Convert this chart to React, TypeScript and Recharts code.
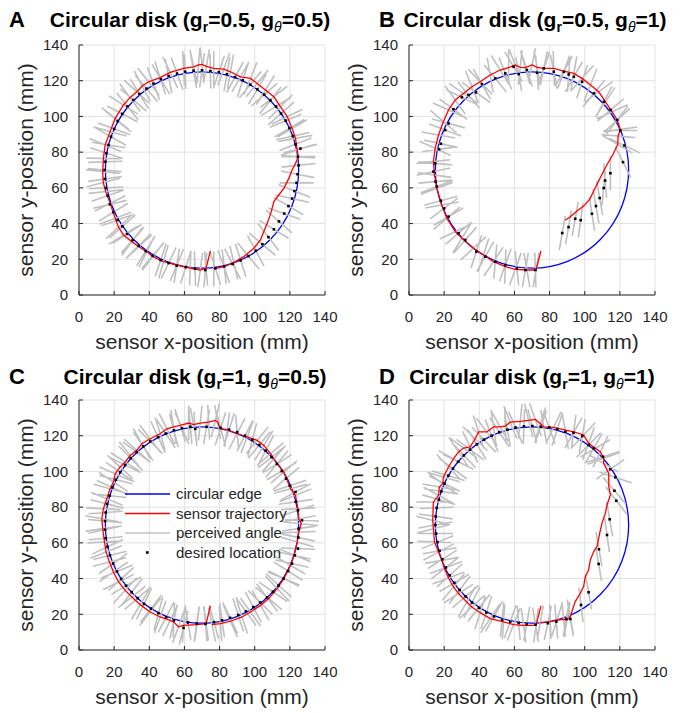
import { ComposedChart, XAxis, YAxis, CartesianGrid, Line, Scatter, ReferenceArea, Legend } from 'recharts'

type Pt = [number, number]

const axisTicks = [0, 20, 40, 60, 80, 100, 120, 140]
const edgeCenter: Pt = [70, 70]
const edgeRadius = 55
const stickHalf = 9.7

// panel A (g_r=0.5, g_theta=0.5)
const trajA: Pt[] = [
  [74.8, 24.7], [72.3, 15.0], [69.0, 14.0], [63.3, 15.0], [55.7, 16.8], [48.1, 18.7], [42.0, 21.5], [38.6, 24.3],
  [34.0, 27.0], [30.1, 29.9], [25.3, 33.6], [22.5, 38.0], [20.6, 43.0], [17.7, 51.3], [15.2, 57.9], [13.8, 63.0],
  [13.5, 69.1], [13.9, 76.5], [14.9, 84.0], [17.7, 91.5], [20.6, 98.9], [25.3, 106.4], [29.0, 110.5], [32.9, 113.8],
  [36.0, 117.0], [39.6, 119.4], [46.2, 121.7], [51.9, 124.7], [59.5, 126.9], [65.2, 127.8], [68.0, 128.8], [70.0, 129.1],
  [72.5, 128.0], [76.7, 126.9], [82.4, 126.5], [86.2, 125.0], [91.9, 122.2], [97.6, 121.3], [101.4, 118.5], [106.1, 114.8],
  [110.9, 111.0], [114.7, 105.4], [118.5, 99.9], [121.3, 93.3], [123.2, 87.7], [124.2, 81.2], [124.8, 77.5], [123.2, 73.7],
  [121.3, 70.0], [119.4, 65.3], [116.6, 59.7], [113.7, 56.0], [110.9, 52.3], [109.4, 46.7], [107.5, 41.1], [105.2, 35.5],
  [103.3, 30.8], [99.5, 26.2], [93.8, 21.5], [88.1, 18.1], [82.4, 15.9], [76.7, 14.6],
]
// perceived angle at each sensor position (null: no line drawn there)
const trajAngleA: (number | null)[] = [
  null, 275, 262, 268, 247, 254, 232, 243, 222, 233, 212, 222, 200, 206, 186, 194, 174, 179, 158, 165,
  142, 148, 127, 138, 118, 129, 108, 116, 93, 102, 85, 96, 80, 90, 70, 80, 60, 68, 50, 58,
  38, 45, 25, 30, 10, 18, 0, null, null, null, null, null, null, null, null, null, null, null, null, -77,
  -70, -90,
]
const dotsA: Pt[] = [
  [71.9, 14.0], [66.0, 14.8], [60.8, 15.6], [55.6, 16.4], [51.0, 17.9], [46.5, 19.6], [42.0, 22.0], [38.0, 24.6],
  [34.0, 27.6], [30.6, 30.8], [27.4, 34.2], [24.7, 38.4], [22.0, 42.0], [19.6, 46.4], [17.6, 50.8], [16.4, 55.6],
  [15.4, 60.0], [14.8, 65.0], [14.6, 70.0], [15.0, 74.6], [15.6, 79.4], [16.8, 84.0], [18.2, 88.6], [20.0, 93.0],
  [22.0, 97.4], [24.6, 101.4], [27.6, 105.6], [31.0, 109.2], [34.4, 112.6], [38.4, 115.6], [42.4, 118.4], [46.6, 120.8],
  [51.0, 122.6], [55.8, 124.0], [60.4, 125.0], [65.2, 125.6], [70.0, 125.8], [74.8, 125.4], [79.6, 124.8], [84.2, 123.6],
  [88.8, 122.0], [93.2, 120.2], [97.5, 117.8], [101.5, 115.2], [105.4, 112.2], [108.9, 109.0], [112.1, 105.6], [115.0, 101.6],
  [117.6, 97.6], [119.8, 93.4], [121.7, 89.0], [123.2, 84.4], [126.0, 82.0], [124.6, 77.4], [125.0, 72.6], [124.4, 67.6],
  [123.8, 62.8], [122.6, 58.2], [121.3, 54.0], [119.2, 49.8], [116.8, 45.6], [113.8, 41.2], [110.9, 36.8], [107.8, 32.4],
  [104.4, 28.4], [100.6, 24.8], [96.4, 21.8], [92.0, 19.4], [87.4, 17.4], [82.6, 16.0], [77.6, 15.0],
]
const angleA = [
  265, 272, 252, 261, 244, 251, 229, 238, 224, 228, 213, 221, 199, 211, 193, 199, 183, 188, 175, 182,
  162, 171, 151, 160, 141, 153, 129, 140, 122, 131, 111, 121, 101, 110, 92, 100, 82, 91, 71, 80,
  61, 72, 50, 59, 41, 51, 31, 41, 22, 30, 12, 21, 14, -4, 6, -11, 0, -21, -12, -30,
  -19, -41, -31, -52, -40, -61, -50, -72, -62, -83, -72,
]

// panel B (g_r=0.5, g_theta=1)
const trajB: Pt[] = [
  [75.1, 24.7], [72.3, 14.0], [67.1, 14.0], [60.5, 14.4], [54.8, 15.9], [48.1, 18.7], [42.4, 22.4], [36.7, 26.2],
  [30.1, 31.8], [26.3, 35.5], [21.5, 43.0], [18.7, 50.4], [15.8, 59.7], [14.5, 67.2], [13.9, 74.7], [14.9, 82.1],
  [16.8, 89.6], [19.6, 97.1], [22.5, 103.6], [26.3, 109.2], [31.0, 112.9], [35.8, 116.6], [40.5, 119.4], [46.2, 123.2],
  [51.9, 126.0], [56.7, 127.3], [60.5, 128.8], [63.3, 127.5], [66.2, 127.3], [70.0, 128.8], [72.9, 127.5], [76.7, 126.9],
  [82.4, 126.9], [88.1, 125.4], [93.8, 124.1], [98.5, 121.3], [103.3, 117.6], [108.0, 113.8], [111.8, 108.2], [115.6, 102.6],
  [118.5, 98.0], [120.3, 92.7], [119.0, 89.0], [118.8, 84.3], [116.1, 78.7], [112.7, 73.1], [109.8, 67.5], [107.4, 62.8],
  [105.1, 58.2], [102.8, 53.5], [99.4, 49.8], [95.6, 47.0], [91.8, 43.8], [88.9, 41.9],
]
const trajAngleB: (number | null)[] = [
  null, 260, 280, 250, 268, 236, 252, 222, 238, 205, 220, 190, 200, 172, 186, 156, 170, 140, 156, 126,
  146, 112, 134, 100, 122, 90, 112, 84, 106, 78, 100, 70, 92, 60, 80, 48, 68, 36, 56, 24,
  42, 8, 175, 150, null, null, null, null, null, null, null, null, null, null,
]
const dotsB: Pt[] = [
  [71.9, 14.0], [66.2, 14.0], [61.4, 15.0], [54.8, 16.8], [49.1, 18.7], [43.4, 21.5], [38.3, 24.3], [32.0, 30.8],
  [28.2, 34.6], [22.5, 43.9], [20.0, 48.5], [18.1, 52.8], [15.8, 60.7], [15.1, 63.5], [13.9, 69.1], [14.9, 73.7],
  [17.1, 81.6], [18.1, 84.7], [20.6, 92.4], [22.5, 96.1], [25.3, 104.0], [30.1, 110.7], [33.9, 112.0], [38.1, 113.5],
  [41.5, 118.1], [49.1, 121.3], [54.8, 124.1], [59.5, 127.8], [62.4, 123.7], [67.1, 126.0], [72.9, 124.5], [76.7, 126.9],
  [82.4, 125.0], [88.1, 125.0], [90.9, 123.5], [93.8, 122.2], [98.5, 119.4], [105.2, 112.9], [110.9, 108.2], [114.7, 103.6],
  [118.5, 98.0], [120.3, 92.1], [122.6, 83.7], [121.8, 74.4], [114.6, 68.2], [111.6, 64.1], [110.8, 59.9], [108.5, 54.3],
  [106.4, 49.8], [104.1, 45.5], [97.7, 41.9], [94.6, 42.7], [90.8, 38.0], [87.2, 34.7],
]
const angleB = [
  92, 80, 96, 70, 85, 60, 72, 48, 40, 30, 36, 15, 21, 5, 12, -5, 8, -12, -20, -15,
  -36, -25, -50, -35, -60, 130, 112, 121, 100, 108, 95, 78, 101, 70, 86, 60, 72, 50, 62, 40,
  52, 0, 155, 117, 90, 95, 84, 100, 100, 99, 82, 80, 80, 80,
]

// panel C (g_r=1, g_theta=0.5)
const trajC: Pt[] = [
  [74.8, 24.7], [72.3, 14.8], [67.1, 14.2], [59.5, 13.8], [56.6, 13.0], [53.8, 15.8], [51.9, 16.6], [46.2, 18.5],
  [40.5, 21.3], [34.8, 25.4], [30.1, 29.7], [26.3, 33.4], [22.5, 38.1], [19.6, 43.7], [17.3, 49.3], [15.4, 54.9],
  [14.5, 60.5], [13.5, 67.9], [13.0, 73.5], [13.9, 79.1], [15.8, 84.7], [17.7, 90.3], [19.6, 94.1], [20.6, 98.7],
  [23.4, 102.5], [26.3, 105.3], [29.1, 109.0], [32.9, 111.8], [35.8, 115.5], [40.5, 118.3], [46.2, 121.1], [50.0, 123.9],
  [53.8, 124.9], [57.6, 125.8], [62.4, 127.1], [65.2, 126.2], [69.0, 127.1], [73.8, 127.6], [77.6, 128.6], [78.9, 127.6],
  [80.5, 123.9], [84.3, 123.4], [89.9, 121.1], [95.7, 119.3], [101.4, 117.4], [105.2, 114.6], [109.0, 109.9], [110.9, 107.1],
  [112.8, 104.3], [116.6, 99.7], [120.4, 90.3], [123.2, 86.6], [124.6, 79.1], [125.1, 73.5], [126.5, 70.7], [125.1, 66.0],
  [124.2, 60.5], [122.3, 53.0], [120.4, 47.4], [116.6, 40.0], [112.8, 34.4], [108.0, 28.8], [103.3, 25.0], [97.6, 21.3],
  [92.8, 18.5], [86.2, 16.1], [80.5, 14.8], [75.7, 14.2],
]
const trajAngleC: (number | null)[] = [
  null, 278, 262, 266, 250, 258, 244, 250, 232, 239, 218, 227, 206, 214, 194, 201, 183, 188, 170, 177,
  158, 165, 147, 157, 138, 148, 129, 139, 120, 128, 107, 117, 99, 108, 90, 101, 84, 93, 76, 100,
  72, 82, 62, 69, 50, 58, 40, 48, 32, 40, 15, 22, 3, 10, -6, 2, -16, -12, -30, -26,
  -46, -40, -60, -54, -72, -66, -86, -78,
]
const dotsC: Pt[] = [
  [72.0, 14.6], [67.0, 14.8], [62.0, 15.4], [59.5, 12.4], [54.0, 16.6], [49.6, 18.4], [45.2, 20.6], [41.0, 23.2],
  [37.0, 25.8], [33.4, 29.0], [30.0, 32.4], [26.8, 36.0], [24.0, 39.8], [21.6, 44.0], [19.4, 48.4], [17.6, 53.0],
  [16.2, 57.8], [15.2, 62.6], [14.8, 67.4], [14.8, 72.2], [15.2, 77.0], [16.0, 81.8], [17.4, 86.4], [19.0, 91.0],
  [21.0, 95.4], [23.4, 99.6], [26.2, 103.6], [29.4, 107.4], [32.8, 110.8], [36.6, 114.0], [40.6, 116.8], [45.0, 119.2],
  [49.4, 121.2], [54.0, 123.0], [58.6, 124.2], [63.4, 125.0], [66.2, 123.9], [72.6, 125.0], [80.6, 124.4], [85.4, 123.4],
  [90.0, 122.0], [94.4, 120.0], [98.6, 117.6], [102.6, 114.8], [106.2, 111.6], [109.6, 108.0], [112.6, 104.2], [115.4, 100.2],
  [117.8, 96.0], [120.0, 92.0], [123.2, 88.5], [123.4, 83.0], [124.6, 78.2], [126.9, 72.6], [125.0, 68.0], [124.8, 63.0],
  [124.6, 56.8], [122.8, 53.0], [121.2, 48.4], [119.0, 44.2], [116.4, 40.0], [113.6, 36.2], [110.4, 32.6], [107.0, 29.4],
  [103.2, 26.6], [99.2, 24.0], [95.0, 21.6], [90.6, 19.6], [86.0, 18.0], [81.4, 16.6], [76.8, 15.6],
]
const angleC = [
  95, 82, 100, 75, 88, 62, 75, 52, 64, 40, 52, 30, 42, 22, 35, 14, 25, 5, 12, -5,
  4, -14, -6, -24, -14, -34, -26, -45, -36, -55, -44, -65, -56, -75, -66, -85, 95, 80, 105, 72,
  95, 62, 75, 50, 62, 38, 50, 30, 40, 18, 28, 8, 18, -2, 8, -12, -2, -22, -12, -32,
  -22, -42, -34, -52, -44, -62, -54, -72, -64, -82, -74,
]

// panel D (g_r=1, g_theta=1)
const trajD: Pt[] = [
  [75.1, 24.7], [72.3, 13.8], [65.2, 13.8], [59.5, 14.2], [53.8, 15.7], [46.2, 17.6], [40.5, 20.9], [35.8, 24.1],
  [32.9, 26.9], [28.2, 31.6], [25.3, 35.3], [22.5, 40.3], [20.2, 45.6], [18.7, 50.2], [16.8, 54.9], [14.5, 60.5],
  [13.9, 67.9], [13.5, 72.6], [13.9, 82.9], [16.8, 86.6], [17.3, 91.3], [19.2, 93.1], [19.6, 96.9], [22.5, 102.5],
  [25.3, 107.1], [28.2, 110.9], [31.0, 113.1], [34.8, 113.7], [37.7, 118.3], [39.6, 122.1], [44.3, 122.1], [48.1, 124.9],
  [51.9, 124.9], [54.8, 125.4], [57.6, 127.6], [63.3, 128.0], [68.1, 128.6], [71.9, 129.1], [74.8, 126.7], [76.7, 124.9],
  [82.3, 124.7], [93.7, 122.2], [99.4, 120.4], [102.2, 115.7], [106.0, 112.9], [108.9, 111.0], [110.8, 107.3], [110.8, 104.5],
  [113.7, 98.9], [113.7, 91.5], [114.6, 86.8], [112.7, 81.2], [111.7, 76.5], [109.8, 70.9], [108.5, 65.3], [107.0, 57.9],
  [105.1, 55.1], [103.2, 50.4], [102.2, 44.8], [100.3, 41.1], [99.4, 35.5], [97.5, 31.8], [94.6, 27.1], [92.7, 21.5],
  [91.8, 18.7], [89.9, 16.8], [88.0, 17.2], [84.2, 16.8], [80.4, 15.9], [74.7, 15.3],
]
const trajAngleD: (number | null)[] = [
  null, 262, 278, 248, 266, 236, 252, 222, 240, 212, 230, 200, 218, 190, 208, 178, 194, 166, 180, 152,
  170, 144, 164, 134, 152, 124, 144, 116, 136, 108, 128, 98, 120, 92, 112, 84, 104, 110, 72, 100,
  64, 82, 46, 70, 30, 64, 20, 150, null, null, null, null, null, null, null, null, null, null, null, null,
  null, null, null, null, 100, 80, 96, 72, 92, 80,
]
const dotsD: Pt[] = [
  [72.0, 14.2], [67.0, 14.6], [62.4, 15.2], [57.6, 15.8], [53.0, 17.0], [48.4, 18.8], [44.0, 21.0], [39.8, 23.6],
  [35.8, 26.6], [32.2, 30.0], [28.8, 33.6], [25.8, 37.6], [23.2, 41.8], [21.0, 46.2], [19.0, 50.8], [17.4, 55.6],
  [16.2, 60.4], [15.4, 65.2], [15.0, 70.0], [15.2, 74.8], [15.8, 79.6], [17.0, 84.2], [18.4, 88.8], [20.2, 93.2],
  [22.4, 97.6], [25.0, 101.6], [28.0, 105.4], [31.2, 109.0], [34.8, 112.2], [38.6, 115.2], [42.6, 117.8], [47.0, 120.0],
  [51.4, 122.0], [56.0, 123.4], [60.6, 124.6], [65.4, 125.2], [70.2, 125.4], [75.0, 125.0], [79.8, 124.6], [84.4, 123.6],
  [89.0, 122.2], [93.6, 121.6], [98.6, 119.8], [102.2, 114.8], [105.1, 112.9], [110.4, 108.2], [114.6, 101.2], [117.5, 96.7],
  [116.9, 89.2], [118.0, 83.6], [114.2, 73.2], [112.7, 64.4], [108.1, 56.4], [107.9, 48.2], [102.2, 32.3], [97.9, 25.2],
  [91.8, 17.4], [89.5, 17.4], [83.8, 15.9], [79.0, 15.0],
]
const angleD = [
  100, 80, 95, 70, 84, 60, 72, 50, 62, 40, 52, 30, 42, 20, 32, 10, 22, 0, 10, -8,
  2, -16, -8, -26, -16, -36, -26, -46, -36, -58, -46, -68, -56, -80, -66, -92, 105, 70, 110, 72,
  100, 60, 80, 45, 60, 18, 35, 162, 131, 128, 100, 98, 100, 100, 100, 97, 100, 80, 95, 78,
]

const legendItems = [
  { label: 'circular edge', color: '#0000ff' },
  { label: 'sensor trajectory', color: '#ff0000' },
  { label: 'perceived angle', color: '#c0c0c0' },
  { label: 'desired location', color: '#000000' },
]

const ink = '#262626'

function sticks(centers: Pt[], angles: (number | null)[]) {
  const out: { x: number; y: number | null }[] = []
  centers.forEach(([x, y], i) => {
    const deg = angles[i]
    if (deg == null) return
    const a = (deg * Math.PI) / 180
    const dx = stickHalf * Math.cos(a)
    const dy = stickHalf * Math.sin(a)
    out.push({ x: x - dx, y: y - dy }, { x: x + dx, y: y + dy }, { x: x + dx, y: null })
  })
  return out
}

const EdgeShape = (p: any) => {
  const w = Math.abs(p.width)
  const h = Math.abs(p.height)
  return (
    <ellipse cx={p.x + w / 2} cy={p.y + h / 2} rx={w / 2} ry={h / 2} fill="none" stroke="#0000ff" strokeWidth={1.3} />
  )
}

const DotShape = (p: any) => <rect x={p.cx - 1.3} y={p.cy - 1.3} width={2.6} height={2.6} fill="#000" />

function LegendBox() {
  return (
    <svg width={200} height={80}>
      {legendItems.map((it, i) => {
        const y = 10 + i * 19.5
        return (
          <g key={it.label}>
            {i < 3 ? (
              <line x1={0} x2={45} y1={y} y2={y} stroke={it.color} strokeWidth={1.5} />
            ) : (
              <rect x={21} y={y - 1.3} width={2.6} height={2.6} fill="#000" />
            )}
            <text x={51} y={y} dy="0.36em" fontSize={15} fill={ink}>
              {it.label}
            </text>
          </g>
        )
      })}
    </svg>
  )
}

type PanelProps = {
  left: number
  top: number
  traj: Pt[]
  trajAngles: (number | null)[]
  dots: Pt[]
  angles: number[]
  legend?: boolean
}

function Panel({ left, top, traj, trajAngles, dots, angles, legend }: PanelProps) {
  const trajData = traj.map(([x, y]) => ({ x, y }))
  const dotData = dots.map(([x, y]) => ({ x, y }))
  const stickData = [...sticks(traj, trajAngles), ...sticks(dots, angles)]
  const tickStyle = { fontSize: 15, fill: ink }
  return (
    <div style={{ position: 'absolute', left, top }}>
      <ComposedChart width={347} height={357} margin={{ top: 45, right: 22, bottom: 0, left: 0 }}>
        <CartesianGrid stroke="#e2e2e2" strokeWidth={1} />
        <XAxis
          dataKey="x"
          type="number"
          domain={[0, 140]}
          ticks={axisTicks}
          allowDataOverflow
          height={62}
          tickSize={-4}
          tickMargin={20}
          tick={tickStyle}
          stroke={ink}
          label={{ value: 'sensor x-position (mm)', position: 'insideBottom', offset: 8, style: { fontSize: 21, fill: ink } }}
        />
        <YAxis
          dataKey="y"
          type="number"
          domain={[0, 140]}
          ticks={axisTicks}
          allowDataOverflow
          width={79}
          tickSize={-4}
          tickMargin={15}
          tick={tickStyle}
          stroke={ink}
          label={{
            value: 'sensor y-position (mm)',
            angle: -90,
            position: 'insideLeft',
            offset: 26,
            style: { textAnchor: 'middle', fontSize: 21, fill: ink },
          }}
        />
        <XAxis xAxisId="top" orientation="top" type="number" domain={[0, 140]} ticks={axisTicks} height={0} tick={false} tickSize={-4} stroke={ink} />
        <YAxis yAxisId="right" orientation="right" type="number" domain={[0, 140]} ticks={axisTicks} width={0} tick={false} tickSize={-4} stroke={ink} />
        <Line data={stickData} dataKey="y" type="linear" stroke="#c0c0c0" strokeWidth={1.6} dot={false} activeDot={false} isAnimationActive={false} />
        <ReferenceArea
          x1={edgeCenter[0] - edgeRadius}
          x2={edgeCenter[0] + edgeRadius}
          y1={edgeCenter[1] - edgeRadius}
          y2={edgeCenter[1] + edgeRadius}
          shape={EdgeShape}
        />
        <Line data={trajData} dataKey="y" type="linear" stroke="#ff0000" strokeWidth={1.3} dot={false} activeDot={false} isAnimationActive={false} />
        <Scatter data={dotData} dataKey="y" shape={DotShape} isAnimationActive={false} />
        {legend && (
          <Legend
            layout="vertical"
            align="center"
            verticalAlign="middle"
            width={200}
            height={80}
            wrapperStyle={{ left: 125, top: 129 }}
            content={() => <LegendBox />}
          />
        )}
      </ComposedChart>
    </div>
  )
}

function Title({ x, y, letter, gr, gt }: { x: number; y: number; letter: string; gr: string; gt: string }) {
  return (
    <>
      <div style={{ position: 'absolute', left: 9, top: y, fontSize: 22, fontWeight: 'bold', lineHeight: 1, transform: `translateX(${x < 300 ? 0 : 370}px)` }}>
        {letter}
      </div>
      <div
        style={{
          position: 'absolute',
          left: x,
          top: y,
          transform: 'translateX(-50%)',
          whiteSpace: 'nowrap',
          fontSize: 21,
          fontWeight: 'bold',
          lineHeight: 1,
        }}
      >
        Circular disk (g<sub style={{ fontSize: 14, verticalAlign: '-5px' }}>r</sub>={gr}, g
        <sub style={{ fontSize: 14, verticalAlign: '-5px', fontStyle: 'italic', fontWeight: 'normal' }}>θ</sub>={gt})
      </div>
    </>
  )
}

export default function App() {
  return (
    <div
      style={{
        position: 'absolute',
        left: 0,
        top: 0,
        width: 694,
        height: 713,
        background: '#fff',
        color: '#000',
        fontFamily: '"Liberation Sans", Arial, sans-serif',
      }}
    >
      <Panel left={0} top={0} traj={trajA} trajAngles={trajAngleA} dots={dotsA} angles={angleA} />
      <Panel left={330} top={0} traj={trajB} trajAngles={trajAngleB} dots={dotsB} angles={angleB} />
      <Panel left={0} top={355} traj={trajC} trajAngles={trajAngleC} dots={dotsC} angles={angleC} legend />
      <Panel left={330} top={355} traj={trajD} trajAngles={trajAngleD} dots={dotsD} angles={angleD} />
      <Title x={190} y={9} letter="A" gr="0.5" gt="0.5" />
      <Title x={535} y={9} letter="B" gr="0.5" gt="1" />
      <Title x={195} y={366} letter="C" gr="1" gt="0.5" />
      <Title x={532} y={366} letter="D" gr="1" gt="1" />
    </div>
  )
}
